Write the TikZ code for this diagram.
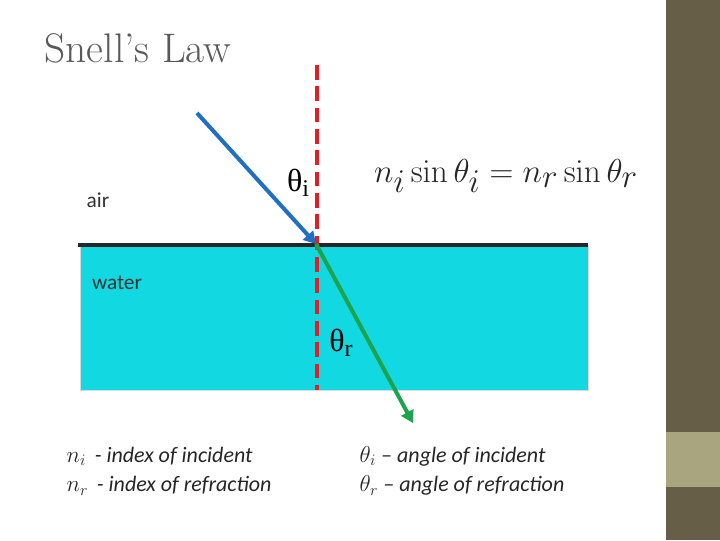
\documentclass[tikz,border=0pt]{standalone}
\usepackage[no-math]{fontspec}
\setmainfont{Carlito}
\newfontfamily\tnr{Liberation Serif}
\newfontfamily\cmb{Latin Modern Roman}
\usetikzlibrary{arrows.meta}
\definecolor{olive}{HTML}{665E47}
\definecolor{lolive}{HTML}{A8A57F}
\definecolor{water}{HTML}{12D8E2}
\definecolor{ray1}{HTML}{1F70C1}
\definecolor{ray2}{HTML}{1BA34E}
\definecolor{redl}{HTML}{E41E26}
\definecolor{txt}{HTML}{595959}
\tikzset{lbl/.style={font=\fontsize{16}{19}\selectfont, text=black!80},
 ray/.style={line width=3pt,-{Triangle[length=9pt,width=10pt]}},
 th/.style={font=\tnr\fontsize{24}{28}\selectfont}}
\begin{document}
\begin{tikzpicture}[x=0.75pt,y=-0.75pt]
\useasboundingbox (0,0) rectangle (720,540);
\fill[olive] (666,0) rectangle (720,540);
\fill[lolive] (666,432) rectangle (720,487);
\node[anchor=west,text=txt,font=\cmb\fontsize{31}{34}\selectfont] (title) at (40,48) {Snell’s Law};
\node[draw=black!15,fill=water,minimum width=508*0.75pt,minimum height=145*0.75pt,inner sep=0,anchor=north west] (w) at (80,245) {};
\draw[line width=3pt,black!85] (78,245) coordinate (s0) -- (588,245) coordinate (s1);
\draw[redl,line width=2.5pt,dash pattern=on 11pt off 5pt] (317,65) coordinate (r0) -- (317,390) coordinate (r1);
\coordinate (p) at (316,244);
\coordinate (a) at (197,113);
\coordinate (b) at (413,423);
\draw[ray,ray1] (a) -- (p);
\draw[ray,ray2] (p) -- (b);
\node[lbl] (air) at (98,200) {air};
\node[lbl] (wat) at (117,283) {water};
\node[th] (ti) at (298,183) {θ\raisebox{-0.3ex}{\fontsize{18}{20}\selectfont i}};
\node[th] (tr) at (341,343) {θ\raisebox{-0.3ex}{\fontsize{18}{20}\selectfont r}};
\node[font=\fontsize{34}{38}\selectfont,text=black!85] (eq) at (506,176) {$n_i\sin\theta_i=n_r\sin\theta_r$};
\node[anchor=west,font=\fontsize{16.5}{22}\selectfont\itshape,text=black!85,align=left] (l1) at (62,471) {$n_i$ \,- index of incident\\ $n_r$ \,- index of refraction};
\node[anchor=west,font=\fontsize{16.5}{22}\selectfont\itshape,text=black!85,align=left] (l2) at (355,471) {$\theta_i$ -- angle of incident\\ $\theta_r$ -- angle of refraction};
\end{tikzpicture}
\end{document}
